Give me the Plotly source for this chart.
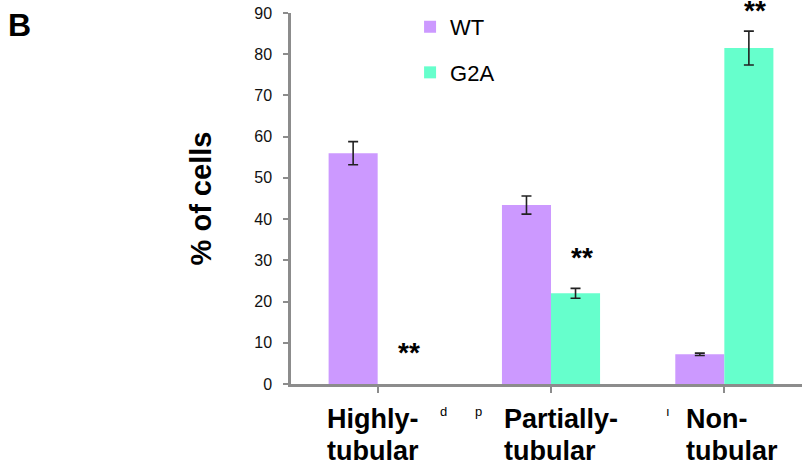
import plotly.graph_objects as go

categories = ["Highly-tubular", "Partially-tubular", "Non-tubular"]
label_line1 = ["Highly-", "Partially-", "Non-"]
label_line2 = ["tubular", "tubular", "tubular"]
wt_values = [56.0, 43.4, 7.2]
wt_errors = [2.8, 2.2, 0.3]
g2a_values = [0.0, 22.0, 81.5]
g2a_errors = [0.0, 1.2, 4.1]
sig_labels = ["**", "**", "**"]
sig_y = [7.7, 30.7, 90.6]
y_ticks = [0, 10, 20, 30, 40, 50, 60, 70, 80, 90]

FONT = "Liberation Sans, Arial, sans-serif"
WT_COLOR = "#cc99ff"
G2A_COLOR = "#66ffcc"
AXIS_COLOR = "#8c8c8c"

W, H = 802, 471
L, R, T, B = 291, 0, 13, 87
PW, PH = W - L - R, H - T - B


def px_to_paper_x(px):
    return (px - L) / PW


def px_to_paper_y(py):
    return (H - B - py) / PH


x_idx = list(range(len(categories)))

fig = go.Figure()
fig.add_trace(go.Bar(
    x=x_idx, y=wt_values, name="WT", marker=dict(color=WT_COLOR, line=dict(width=0)),
    error_y=dict(type="data", array=wt_errors, visible=True,
                 color="#222222", thickness=1.6, width=5),
    legendgroup="wt",
))
# zero-height bars carry no error bar, so only non-zero points are drawn
g_x = [i for i, v in zip(x_idx, g2a_values) if v > 0]
g_y = [v for v in g2a_values if v > 0]
g_e = [e for v, e in zip(g2a_values, g2a_errors) if v > 0]
fig.add_trace(go.Bar(
    x=g_x, y=g_y, name="G2A", marker=dict(color=G2A_COLOR, line=dict(width=0)),
    error_y=dict(type="data", array=g_e, visible=True,
                 color="#222222", thickness=1.6, width=5),
    legendgroup="g2a",
))

label_shift = [-53, -49, -40]
annotations = []
for i in x_idx:
    for txt, py in ((label_line1[i], 419), (label_line2[i], 450.5)):
        annotations.append(dict(
            x=i, y=px_to_paper_y(py), xref="x", yref="paper", text="<b>" + txt + "</b>",
            showarrow=False, xanchor="left", yanchor="middle", align="left",
            xshift=label_shift[i],
            font=dict(family=FONT, size=27, color="#000000"),
        ))
# significance markers over the G2A bars
for i, s in enumerate(sig_labels):
    yv = min(sig_y[i], 89.0)
    ys = (sig_y[i] - yv) * PH / 90.0
    annotations.append(dict(
        x=i, y=yv, xref="x", yref="y", text="<b>" + s + "</b>", showarrow=False,
        xanchor="center", yanchor="middle", xshift=31, yshift=ys,
        font=dict(family=FONT, size=28, color="#000000"),
    ))
# panel letter
annotations.append(dict(
    x=px_to_paper_x(6), y=px_to_paper_y(5), xref="paper", yref="paper",
    xanchor="left", yanchor="top", text="<b>B</b>", showarrow=False,
    font=dict(family=FONT, size=32, color="#000000"),
))
fragment_text = ["d", "p", "ı"]
fragment_x = [443, 478, 668]
for t, px in zip(fragment_text, fragment_x):
    annotations.append(dict(
        x=px_to_paper_x(px), y=px_to_paper_y(411), xref="paper", yref="paper",
        xanchor="center", yanchor="middle",
        text=t, showarrow=False, font=dict(family=FONT, size=13, color="#000000"),
    ))

fig.update_layout(
    width=W, height=H,
    margin=dict(l=L, r=R, t=T, b=B, pad=0),
    paper_bgcolor="white", plot_bgcolor="white",
    barmode="group", bargap=0.434, bargroupgap=0,
    font=dict(family=FONT, color="#000000"),
    showlegend=True,
    legend=dict(
        x=0.233, y=1.019, xanchor="left", yanchor="top",
        font=dict(family=FONT, size=22, color="#000000"),
        traceorder="grouped", tracegroupgap=14, bgcolor="rgba(0,0,0,0)",
    ),
    xaxis=dict(
        range=[-0.5, 2.448], tickmode="array", tickvals=x_idx, ticktext=["", "", ""],
        tickson="boundaries", ticks="outside", ticklen=6, tickcolor=AXIS_COLOR, tickwidth=1.5,
        showline=True, linecolor=AXIS_COLOR, linewidth=2.5, showgrid=False, zeroline=False,
        fixedrange=True,
    ),
    yaxis=dict(
        range=[0, 90], tickmode="array", tickvals=y_ticks,
        ticks="outside", ticklen=5, tickcolor=AXIS_COLOR, tickwidth=1.5,
        showline=True, linecolor=AXIS_COLOR, linewidth=2.5, showgrid=False, zeroline=False,
        tickfont=dict(family=FONT, size=16, color="#111111"),
        ticklabelstandoff=8,
        title=dict(text="<b>% of cells</b>", font=dict(family=FONT, size=29, color="#000000"),
                   standoff=35),
        automargin=False,
    ),
    annotations=annotations,
)

fig.write_html(
    "out.html",
    config={"displayModeBar": False},
    post_script="document.body.style.margin='0';document.body.style.overflow='hidden';",
)
